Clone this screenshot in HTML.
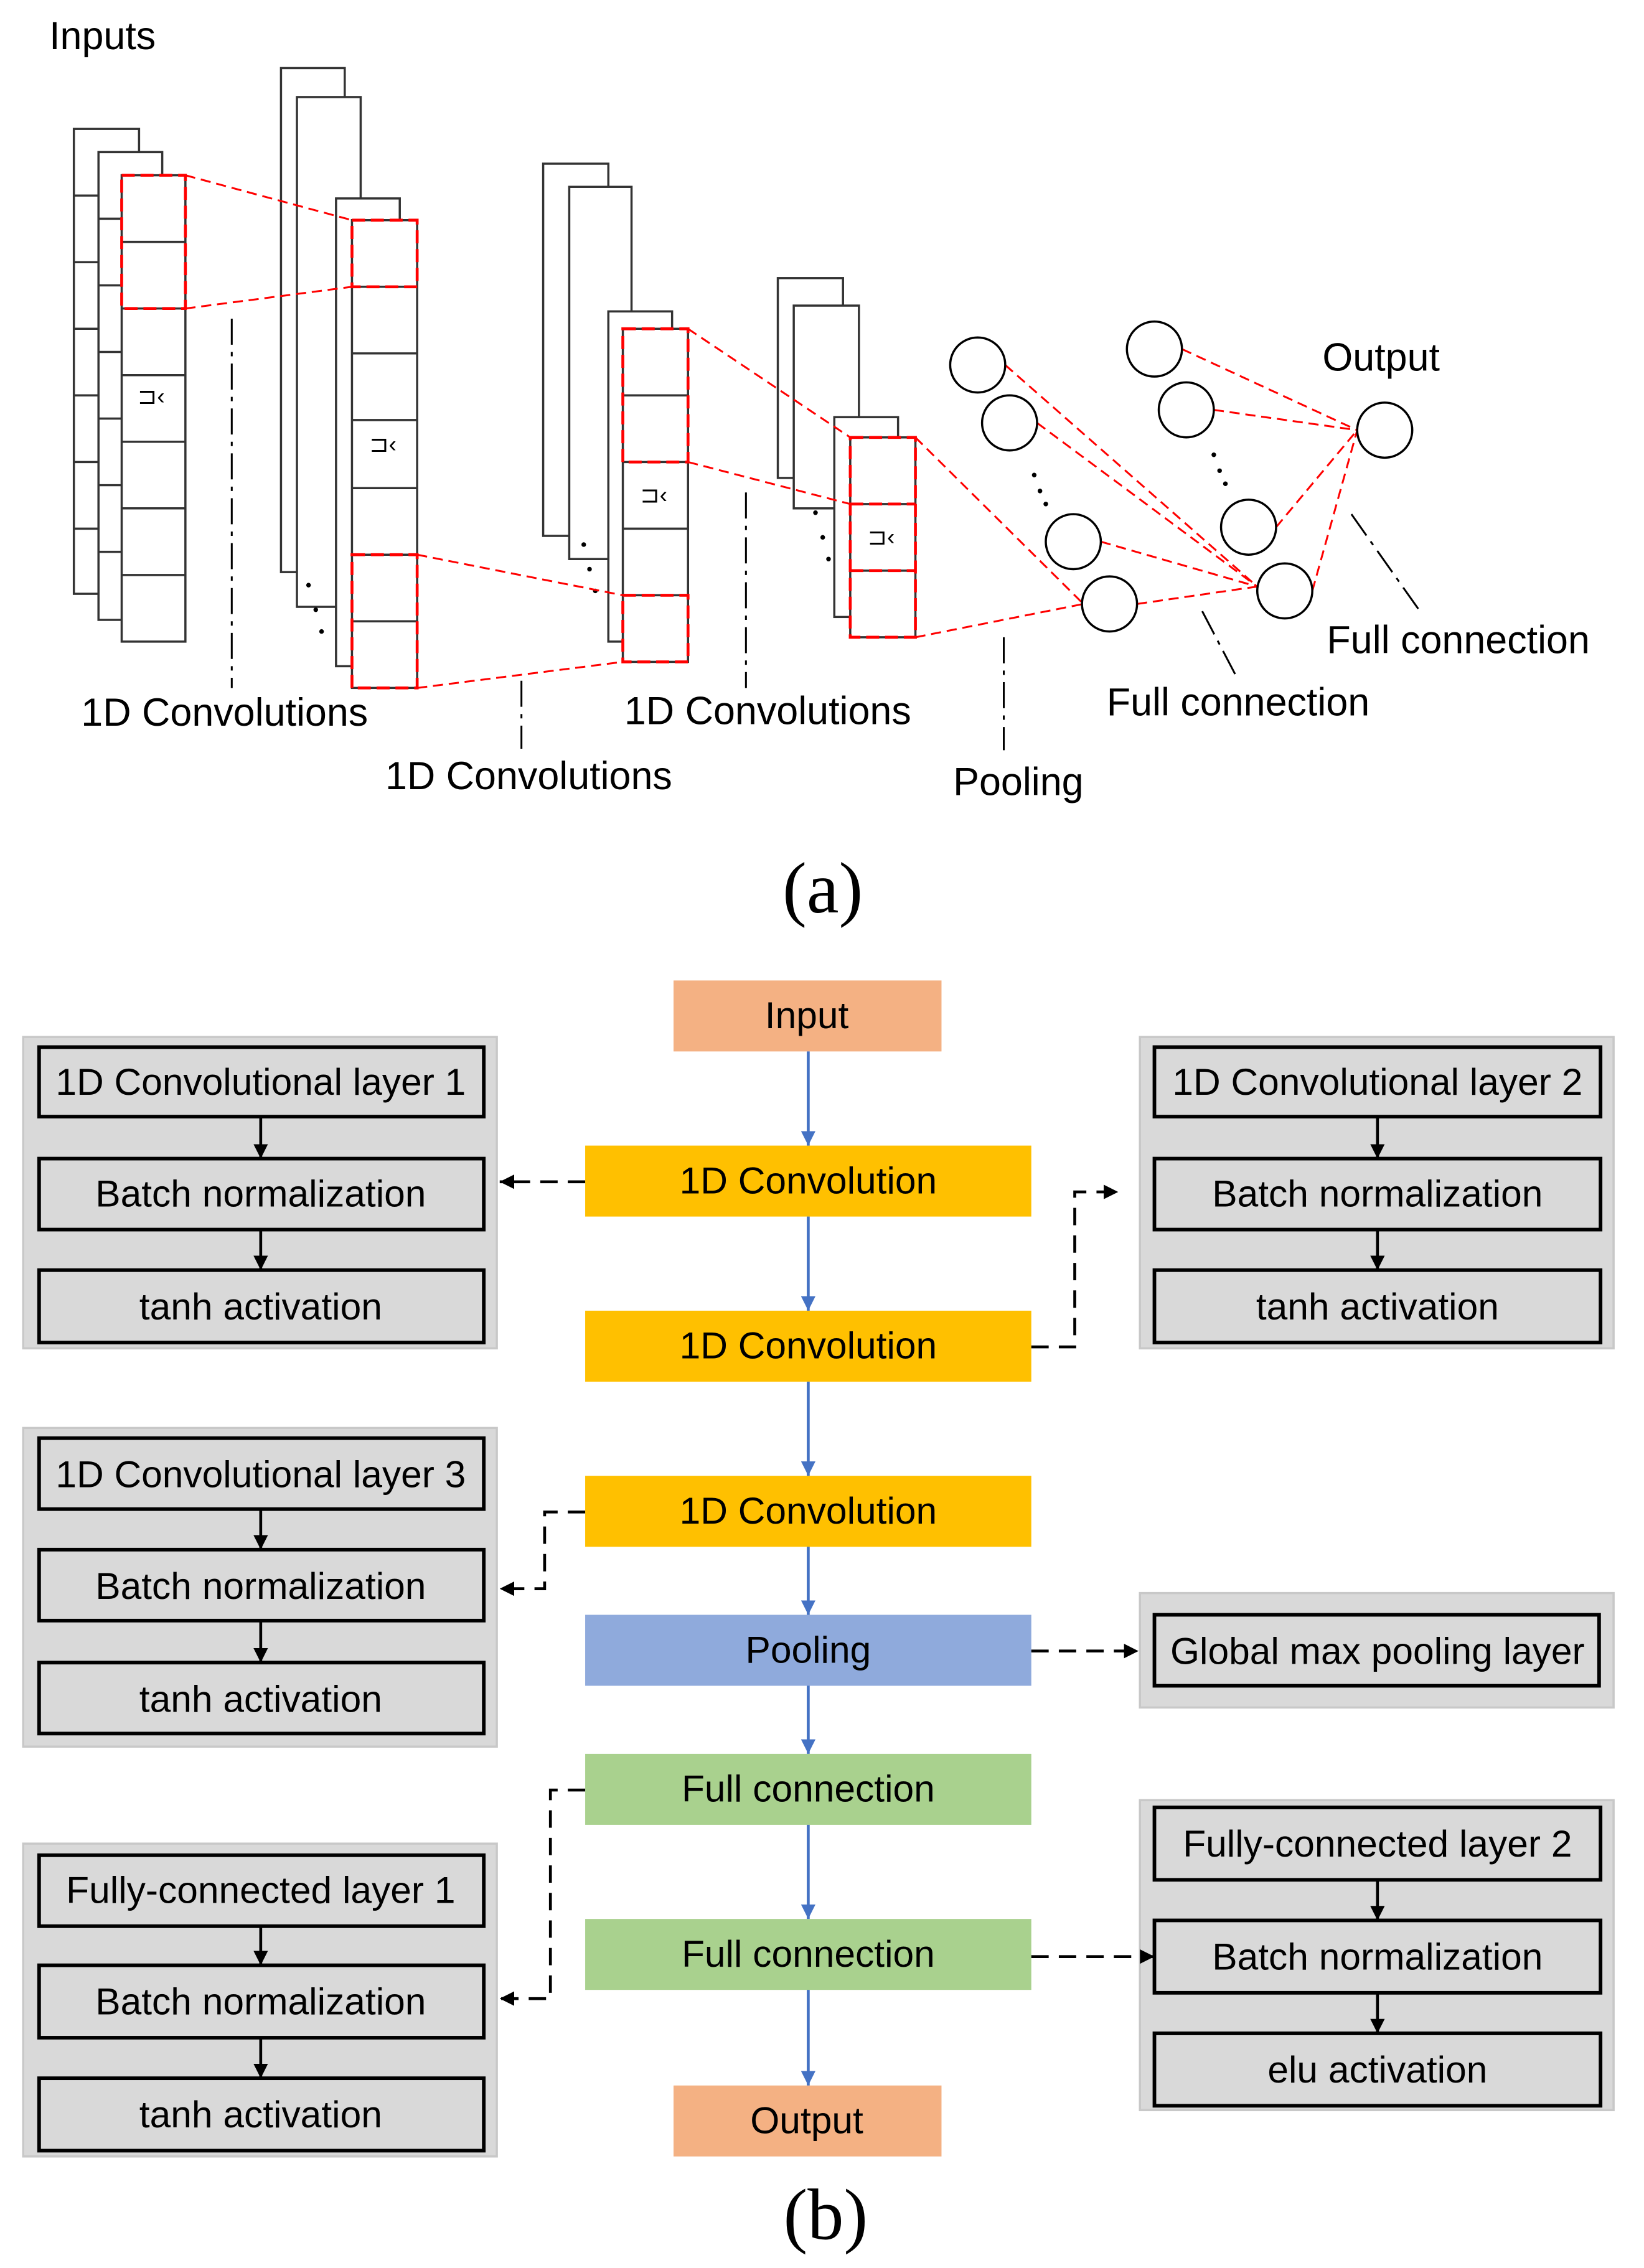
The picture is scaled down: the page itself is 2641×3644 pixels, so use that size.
<!DOCTYPE html>
<html><head><meta charset="utf-8"><style>
html,body{margin:0;padding:0;background:#fff}
svg{display:block}
text{font-family:"Liberation Sans",sans-serif}
</style></head><body>
<svg width="2641" height="3644" viewBox="0 0 1135 1566" xmlns="http://www.w3.org/2000/svg">
<defs>
<marker id="ab" viewBox="0 0 10 10" refX="10" refY="5" markerWidth="5" markerHeight="5" orient="auto"><path d="M0,0L10,5L0,10z" fill="#4472C4"/></marker>
<marker id="ak" viewBox="0 0 10 10" refX="10" refY="5" markerWidth="5" markerHeight="5" orient="auto"><path d="M0,0L10,5L0,10z" fill="#000"/></marker>
</defs>
<g fill="#fff" stroke="#333" stroke-width="1.5">
<rect x="51" y="89" width="45" height="321"/>
<path d="M51 135H68M51 181H68M51 227H68M51 273H68M51 319H68M51 365H68"/>
<rect x="68" y="105" width="44" height="323"/>
<path d="M68 151H84M68 197H84M68 243H84M68 289H84M68 335H84M68 381H84"/>
<rect x="84" y="121" width="44" height="322"/>
<path d="M84 167H128M84 213H128M84 259H128M84 305H128M84 351H128M84 397H128"/>
<rect x="194" y="47" width="44" height="348"/>
<rect x="205" y="67" width="44" height="352"/>
<rect x="232" y="137" width="44" height="323"/>
<rect x="243" y="152" width="45" height="323"/>
<path d="M243 198H288M243 244H288M243 290H288M243 337H288M243 383H288M243 429H288"/>
<rect x="375" y="113" width="45" height="257"/>
<rect x="393" y="129" width="43" height="257"/>
<rect x="420" y="215" width="44" height="228"/>
<rect x="430" y="227" width="45" height="230"/>
<path d="M430 273H475M430 319H475M430 365H475M430 411H475"/>
<rect x="537" y="192" width="45" height="138"/>
<rect x="548" y="211" width="45" height="140"/>
<rect x="576" y="288" width="44" height="138"/>
<rect x="587" y="302" width="45" height="138"/>
<path d="M587 348H632M587 394H632"/>
</g>
<g font-size="16" fill="#000"><text x="95" y="279">⊐‹</text><text x="255" y="312">⊐‹</text><text x="442" y="347">⊐‹</text><text x="599" y="376">⊐‹</text></g>
<g fill="#000"><circle cx="213" cy="404" r="1.6"/><circle cx="218" cy="421" r="1.6"/><circle cx="222" cy="436" r="1.6"/>
<circle cx="403" cy="376" r="1.6"/><circle cx="407" cy="393" r="1.6"/><circle cx="411" cy="408" r="1.6"/>
<circle cx="563" cy="354" r="1.6"/><circle cx="568" cy="371" r="1.6"/><circle cx="572" cy="386" r="1.6"/>
<circle cx="714" cy="328" r="1.6"/><circle cx="718" cy="339" r="1.6"/><circle cx="722" cy="348" r="1.6"/>
<circle cx="838" cy="314" r="1.6"/><circle cx="842" cy="325" r="1.6"/><circle cx="846" cy="334" r="1.6"/></g>
<g fill="none" stroke="#f00" stroke-width="2" stroke-dasharray="9,4">
<rect x="84" y="121" width="44" height="92"/>
<rect x="243" y="152" width="45" height="46"/>
<rect x="243" y="383" width="45" height="92"/>
<rect x="430" y="227" width="45" height="92"/>
<rect x="430" y="411" width="45" height="46"/>
<rect x="587" y="302" width="45" height="138"/>
<path d="M587 348H632M587 394H632"/>
</g>
<g fill="none" stroke="#f00" stroke-width="1.3" stroke-dasharray="7,4">
<path d="M128 121L243 152M128 213L243 198M288 383L430 411M288 475L430 457M475 227L587 302M475 319L587 348M632 302L748 417M632 440L748 417"/>
<path d="M694 252L868 405M716 292L868 405M760 374L868 405M785 417L868 405M816 241L937 297M838 283L937 297M881 364L937 297M906 408L937 297"/>
</g>
<g fill="none" stroke="#000" stroke-width="1.5">
<circle cx="675" cy="252" r="19"/><circle cx="697" cy="292" r="19"/><circle cx="741" cy="374" r="19"/><circle cx="766" cy="417" r="19"/>
<circle cx="797" cy="241" r="19"/><circle cx="819" cy="283" r="19"/><circle cx="862" cy="364" r="19"/><circle cx="887" cy="408" r="19"/>
<circle cx="956" cy="297" r="19"/>
</g>
<g stroke="#000" stroke-width="1.3" stroke-dasharray="18,5,3,5" fill="none">
<path d="M160 220V475M360 470V517M515 340V475M693 440V518M830 422L853 466M933 355L981 423"/>
</g>
<g font-size="27" fill="#000">
<text x="34" y="34">Inputs</text>
<text x="56" y="501">1D Convolutions</text>
<text x="266" y="545">1D Convolutions</text>
<text x="431" y="500">1D Convolutions</text>
<text x="658" y="549">Pooling</text>
<text x="764" y="494">Full connection</text>
<text x="916" y="451">Full connection</text>
<text x="913" y="256">Output</text>
</g>
<text x="568" y="630" font-size="50" text-anchor="middle" style="font-family:'Liberation Serif',serif">(a)</text>
<text x="570" y="1546" font-size="50" text-anchor="middle" style="font-family:'Liberation Serif',serif">(b)</text>

<g font-size="26" text-anchor="middle" fill="#000">
<rect x="465" y="677" width="185" height="49" fill="#F4B183"/><text x="557" y="710">Input</text>
<rect x="404" y="791" width="308" height="49" fill="#FFC000"/><text x="558" y="824">1D Convolution</text>
<rect x="404" y="905" width="308" height="49" fill="#FFC000"/><text x="558" y="938">1D Convolution</text>
<rect x="404" y="1019" width="308" height="49" fill="#FFC000"/><text x="558" y="1052">1D Convolution</text>
<rect x="404" y="1115" width="308" height="49" fill="#8FAADC"/><text x="558" y="1148">Pooling</text>
<rect x="404" y="1211" width="308" height="49" fill="#A9D18E"/><text x="558" y="1244">Full connection</text>
<rect x="404" y="1325" width="308" height="49" fill="#A9D18E"/><text x="558" y="1358">Full connection</text>
<rect x="465" y="1440" width="185" height="49" fill="#F4B183"/><text x="557" y="1473">Output</text>
</g>
<g stroke="#4472C4" stroke-width="2" marker-end="url(#ab)">
<line x1="558" y1="726" x2="558" y2="791"/><line x1="558" y1="840" x2="558" y2="905"/><line x1="558" y1="954" x2="558" y2="1019"/>
<line x1="558" y1="1068" x2="558" y2="1115"/><line x1="558" y1="1164" x2="558" y2="1211"/><line x1="558" y1="1260" x2="558" y2="1325"/><line x1="558" y1="1374" x2="558" y2="1440"/>
</g>
<g fill="#D9D9D9" stroke="#c8c8c8" stroke-width="1.5">
<rect x="16" y="716" width="327" height="215"/>
<rect x="787" y="716" width="327" height="215"/>
<rect x="16" y="986" width="327" height="220"/>
<rect x="787" y="1100" width="327" height="79"/>
<rect x="16" y="1273" width="327" height="216"/>
<rect x="787" y="1243" width="327" height="214"/>
</g>
<g fill="#D9D9D9" stroke="#000" stroke-width="2.5">
<rect x="27" y="723" width="307" height="48"/><rect x="27" y="800" width="307" height="49"/><rect x="27" y="877" width="307" height="50"/>
<rect x="797" y="723" width="308" height="48"/><rect x="797" y="800" width="308" height="49"/><rect x="797" y="877" width="308" height="50"/>
<rect x="27" y="993" width="307" height="49"/><rect x="27" y="1070" width="307" height="49"/><rect x="27" y="1148" width="307" height="49"/>
<rect x="797" y="1115" width="307" height="49"/>
<rect x="27" y="1281" width="307" height="49"/><rect x="27" y="1357" width="307" height="50"/><rect x="27" y="1435" width="307" height="50"/>
<rect x="797" y="1248" width="308" height="50"/><rect x="797" y="1326" width="308" height="50"/><rect x="797" y="1404" width="308" height="50"/>
</g>
<g stroke="#000" stroke-width="2" marker-end="url(#ak)">
<line x1="180" y1="771" x2="180" y2="800"/><line x1="180" y1="849" x2="180" y2="877"/>
<line x1="951" y1="771" x2="951" y2="800"/><line x1="951" y1="849" x2="951" y2="877"/>
<line x1="180" y1="1042" x2="180" y2="1070"/><line x1="180" y1="1119" x2="180" y2="1148"/>
<line x1="180" y1="1330" x2="180" y2="1357"/><line x1="180" y1="1407" x2="180" y2="1435"/>
<line x1="951" y1="1298" x2="951" y2="1326"/><line x1="951" y1="1376" x2="951" y2="1404"/>
</g>
<g stroke="#000" stroke-width="2" stroke-dasharray="12,7" fill="none" marker-end="url(#ak)">
<path d="M404 816H345"/>
<path d="M712 930H742V823H772"/>
<path d="M404 1044H376V1097H345"/>
<path d="M712 1140H786"/>
<path d="M404 1236H380V1380H345"/>
<path d="M712 1351H797"/>
</g>
<g font-size="26" text-anchor="middle" fill="#000">
<text x="180" y="756">1D Convolutional layer 1</text><text x="180" y="833">Batch normalization</text><text x="180" y="911">tanh activation</text>
<text x="951" y="756">1D Convolutional layer 2</text><text x="951" y="833">Batch normalization</text><text x="951" y="911">tanh activation</text>
<text x="180" y="1027">1D Convolutional layer 3</text><text x="180" y="1104">Batch normalization</text><text x="180" y="1182">tanh activation</text>
<text x="951" y="1149">Global max pooling layer</text>
<text x="180" y="1314">Fully-connected layer 1</text><text x="180" y="1391">Batch normalization</text><text x="180" y="1469">tanh activation</text>
<text x="951" y="1282">Fully-connected layer 2</text><text x="951" y="1360">Batch normalization</text><text x="951" y="1438">elu activation</text>
</g>
</svg>
</body></html>
